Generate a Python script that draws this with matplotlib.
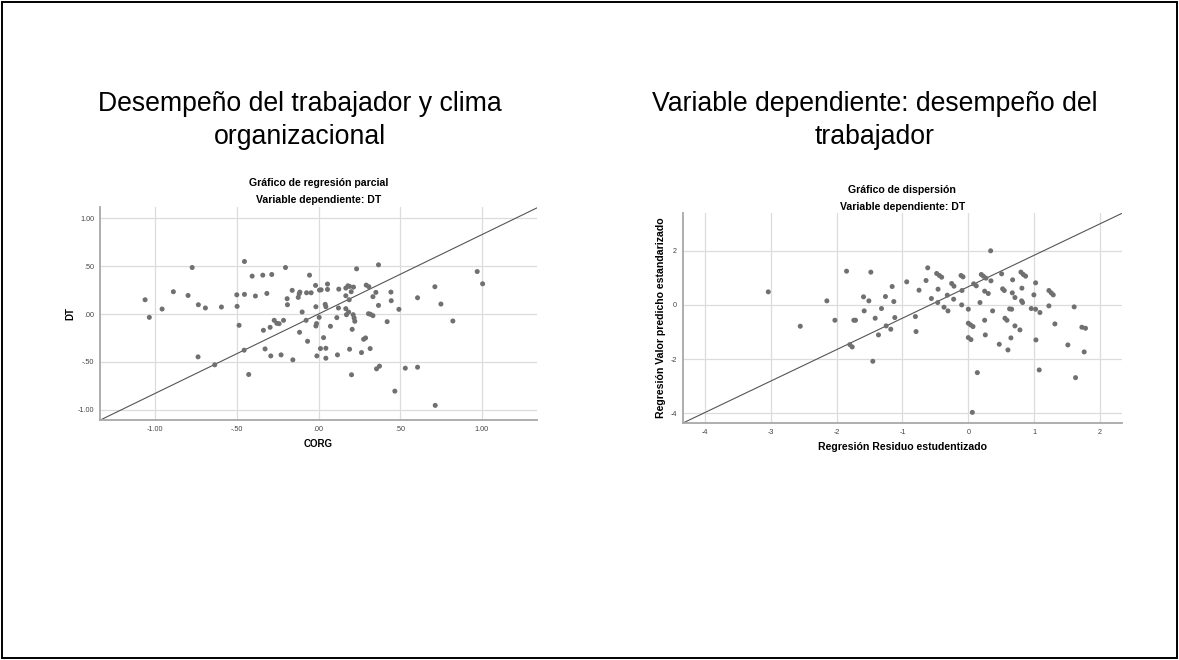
"""plot.py — SPSS-style regression plots (partial regression + residual scatter)"""
import matplotlib
matplotlib.use("Agg")
import matplotlib.pyplot as plt
from matplotlib.patches import Rectangle
from matplotlib.ticker import FixedLocator, FixedFormatter

plt.rcParams["font.family"] = ["Liberation Sans", "DejaVu Sans"]

# --- left: partial regression DT vs CORG ---
corg = [-1.061, -1.035, -0.957, -0.888, -0.798, -0.773, -0.735, -0.737, -0.692, -0.635,
        -0.594, -0.500, -0.498, -0.486, -0.453, -0.453, -0.455, -0.427, -0.406, -0.386,
        -0.341, -0.316, -0.286, -0.337, -0.327, -0.296, -0.292, -0.271, -0.255, -0.241,
        -0.214, -0.229, -0.202, -0.192, -0.190, -0.161, -0.157, -0.124, -0.118, -0.114,
        -0.116, -0.100, -0.073, -0.055, -0.045, -0.076, -0.067, -0.018, -0.016, -0.010,
        -0.016, 0.004, -0.012, 0.006,
        0.016, 0.055, 0.055, 0.041, 0.045, 0.073, 0.031, 0.012, 0.045, 0.045,
        0.116, 0.112, 0.124, 0.122, 0.167, 0.167, 0.180, 0.190, 0.200, 0.214,
        0.188, 0.167, 0.184, 0.171, 0.212, 0.218, 0.222, 0.206, 0.190, 0.202,
        0.233, 0.263, 0.276, 0.288, 0.292, 0.308, 0.306, 0.318, 0.333, 0.316,
        0.333, 0.351, 0.367, 0.367, 0.355, 0.373, 0.420, 0.443, 0.445, 0.467,
        0.492, 0.531, 0.606, 0.606, 0.712, 0.714, 0.749, 0.822, 0.971, 1.004]
dt = [0.149, -0.035, 0.052, 0.233, 0.194, 0.486, 0.097, -0.448, 0.063, -0.531,
      0.073, 0.201, 0.080, -0.118, 0.549, 0.205, -0.378, -0.632, 0.396, 0.188,
      0.406, 0.215, 0.413, -0.170, -0.365, -0.139, -0.438, -0.066, -0.097, -0.101,
      -0.066, -0.427, 0.486, 0.160, 0.097, 0.247, -0.479, 0.174, 0.212, 0.229,
      -0.191, 0.021, 0.222, 0.406, 0.222, -0.066, -0.285, 0.299, 0.076, -0.438,
      -0.125, -0.035, -0.100, 0.250,
      0.253, 0.313, 0.257, 0.101, 0.076, -0.128, -0.247, -0.361, -0.358, -0.462,
      -0.427, -0.038, 0.260, 0.063, 0.271, 0.191, 0.295, 0.288, 0.233, 0.281,
      0.149, 0.056, 0.021, -0.007, -0.007, -0.042, -0.076, -0.160, -0.368, -0.635,
      0.472, -0.403, -0.264, -0.250, 0.302, 0.285, 0.003, -0.003, -0.017, -0.361,
      0.181, 0.226, 0.514, 0.090, -0.573, -0.545, -0.080, 0.229, 0.139, -0.806,
      0.049, -0.566, 0.170, -0.556, 0.285, -0.955, 0.104, -0.073, 0.444, 0.316]
left_fit = (0.0, 0.83)  # intercept, slope
left_xticks = [-1.0, -0.5, 0.0, 0.5, 1.0]
left_xlabels = ["-1.00", "-.50", ".00", ".50", "1.00"]
left_yticks = [-1.0, -0.5, 0.0, 0.5, 1.0]
left_ylabels = ["-1.00", "-.50", ".00", ".50", "1.00"]

# --- right: predicted standardized value vs studentized residual ---
resid = [-3.039, -2.553, -2.149, -2.027, -1.850, -1.800, -1.764, -1.739, -1.714, -1.592,
         -1.582, -1.511, -1.481, -1.451, -1.415, -1.365, -1.319, -1.259, -1.248, -1.178,
         -1.157, -1.132, -1.117,
         -0.936, -0.804, -0.794, -0.749, -0.642, -0.617, -0.561, -0.481, -0.440, -0.405,
         -0.460, -0.465, -0.369, -0.309, -0.319, -0.253, -0.218, -0.223, -0.111, -0.081,
         -0.096, -0.101, 0.000, 0.000, 0.035, 0.071, 0.000, 0.040, 0.137, 0.061,
         0.081, 0.121, 0.177, 0.197, 0.228, 0.268, 0.248, 0.303, 0.339, 0.344,
         0.248, 0.258, 0.369, 0.470, 0.506, 0.521, 0.546, 0.556, 0.587, 0.602,
         0.647, 0.673, 0.668, 0.708, 0.627, 0.658, 0.708, 0.784, 0.799, 0.835,
         0.870, 0.814, 0.809, 0.824, 0.956, 0.996, 1.022, 1.022, 1.088, 1.027,
         1.077, 1.224, 1.259, 1.290, 1.224, 1.315, 1.512, 1.608, 1.629, 1.725,
         1.780, 1.760]
pred = [0.480, -0.788, 0.148, -0.567, 1.244, -1.466, -1.552, -0.567, -0.567, 0.296,
        -0.222, 0.148, 1.207, -2.081, -0.493, -1.108, -0.135, 0.308, -0.776, -0.899,
        0.677, 0.123, -0.468,
        0.850, -0.431, -0.985, 0.542, 0.899, 1.367, 0.234, 1.158, 1.084, 1.022,
        0.579, 0.086, -0.086, -0.222, 0.357, 0.788, 0.690, 0.209, 1.084, 1.034,
        0.530, 0.000, -0.160, -0.677, -0.739, -0.800, -1.207, -1.281, -2.500, -3.966,
        0.776, 0.702, 0.086, 1.121, 1.059, 0.985, 0.505, 0.419, 1.995, 0.887,
        -0.567, -1.108, -0.222, -1.453, 1.145, 0.591, 0.530, -0.493, -0.567, -1.663,
        -1.219, 0.924, 0.443, 0.271, -0.148, -0.160, -0.776, -0.924, 1.207, 1.121,
        1.059, 0.616, 0.148, 0.086, -0.135, 0.369, 0.813, -0.160, -0.283, -1.293,
        -2.401, 0.530, 0.443, 0.369, -0.037, -0.702, -1.478, -0.074, -2.685, -0.825,
        -0.862, -1.736]
right_fit = (0.67, 1.16)
right_xticks = [-4, -3, -2, -1, 0, 1, 2]
right_yticks = [-4, -2, 0, 2]

PT_COLOR = "#707070"
GRID = "#dcdcdc"
SPINE = "#a8a8a8"
SMALL = 7.6


def style_axes(ax, xticks, xlabels, yticks, ylabels):
    for s in ("top", "right"):
        ax.spines[s].set_visible(False)
    for s in ("left", "bottom"):
        ax.spines[s].set_color(SPINE)
        ax.spines[s].set_linewidth(1.3)
    ax.xaxis.set_major_locator(FixedLocator(xticks))
    ax.xaxis.set_major_formatter(FixedFormatter(xlabels))
    ax.yaxis.set_major_locator(FixedLocator(yticks))
    ax.yaxis.set_major_formatter(FixedFormatter(ylabels))
    ax.tick_params(length=0, labelsize=5.2, labelcolor="#444444", pad=4)
    ax.grid(True, color=GRID, lw=0.9)
    ax.set_axisbelow(True)


def draw_panel(ax, x, y, fit, xlim, ylim):
    ax.set_xlim(*xlim); ax.set_ylim(*ylim)
    ax.scatter(x, y, s=13, color=PT_COLOR, edgecolors="none", zorder=3)
    ax.axline((0, fit[0]), slope=fit[1], color="#555555", lw=0.8, zorder=2)


fig = plt.figure(figsize=(11.79, 6.6), dpi=100)
fig.patches.append(Rectangle((0.0015, 0.0025), 0.997, 0.995, transform=fig.transFigure,
                             fill=False, edgecolor="black", lw=1.4))

fig.text(0.2545, 0.817, "Desempeño del trabajador y clima\norganizacional",
         ha="center", va="center", fontsize=19.2, linespacing=1.36)
fig.text(0.742, 0.817, "Variable dependiente: desempeño del\ntrabajador",
         ha="center", va="center", fontsize=19.2, linespacing=1.36)

# left panel
ax1 = fig.add_axes([0.0848, 0.3636, 0.3707, 0.3227])
draw_panel(ax1, corg, dt, left_fit, (-1.337, 1.337), (-1.108, 1.118))
style_axes(ax1, left_xticks, left_xlabels, left_yticks, left_ylabels)
fig.text(0.2702, 0.7227, "Gráfico de regresión parcial", ha="center", va="center",
         fontsize=SMALL, fontweight="bold")
fig.text(0.2702, 0.697, "Variable dependiente: DT", ha="center", va="center",
         fontsize=SMALL, fontweight="bold")
fig.text(0.2702, 0.327, "CORG", ha="center", va="center", fontsize=7, fontweight="bold")
fig.text(0.0594, 0.525, "DT", ha="center", va="center", rotation=90,
         fontsize=7, fontweight="bold")

# right panel
ax2 = fig.add_axes([0.579, 0.3586, 0.3724, 0.3187])
draw_panel(ax2, resid, pred, right_fit, (-4.34, 2.33), (-4.37, 3.39))
style_axes(ax2, right_xticks, [str(t) for t in right_xticks],
           right_yticks, [str(t) for t in right_yticks])
fig.text(0.7652, 0.712, "Gráfico de dispersión", ha="center", va="center",
         fontsize=SMALL, fontweight="bold")
fig.text(0.7652, 0.687, "Variable dependiente: DT", ha="center", va="center",
         fontsize=SMALL, fontweight="bold")
fig.text(0.7652, 0.3225, "Regresión Residuo estudentizado", ha="center", va="center",
         fontsize=SMALL, fontweight="bold")
fig.text(0.561, 0.518, "Regresión Valor predicho estandarizado", ha="center",
         va="center", rotation=90, fontsize=SMALL, fontweight="bold")

fig.savefig("out.png", dpi=100)
